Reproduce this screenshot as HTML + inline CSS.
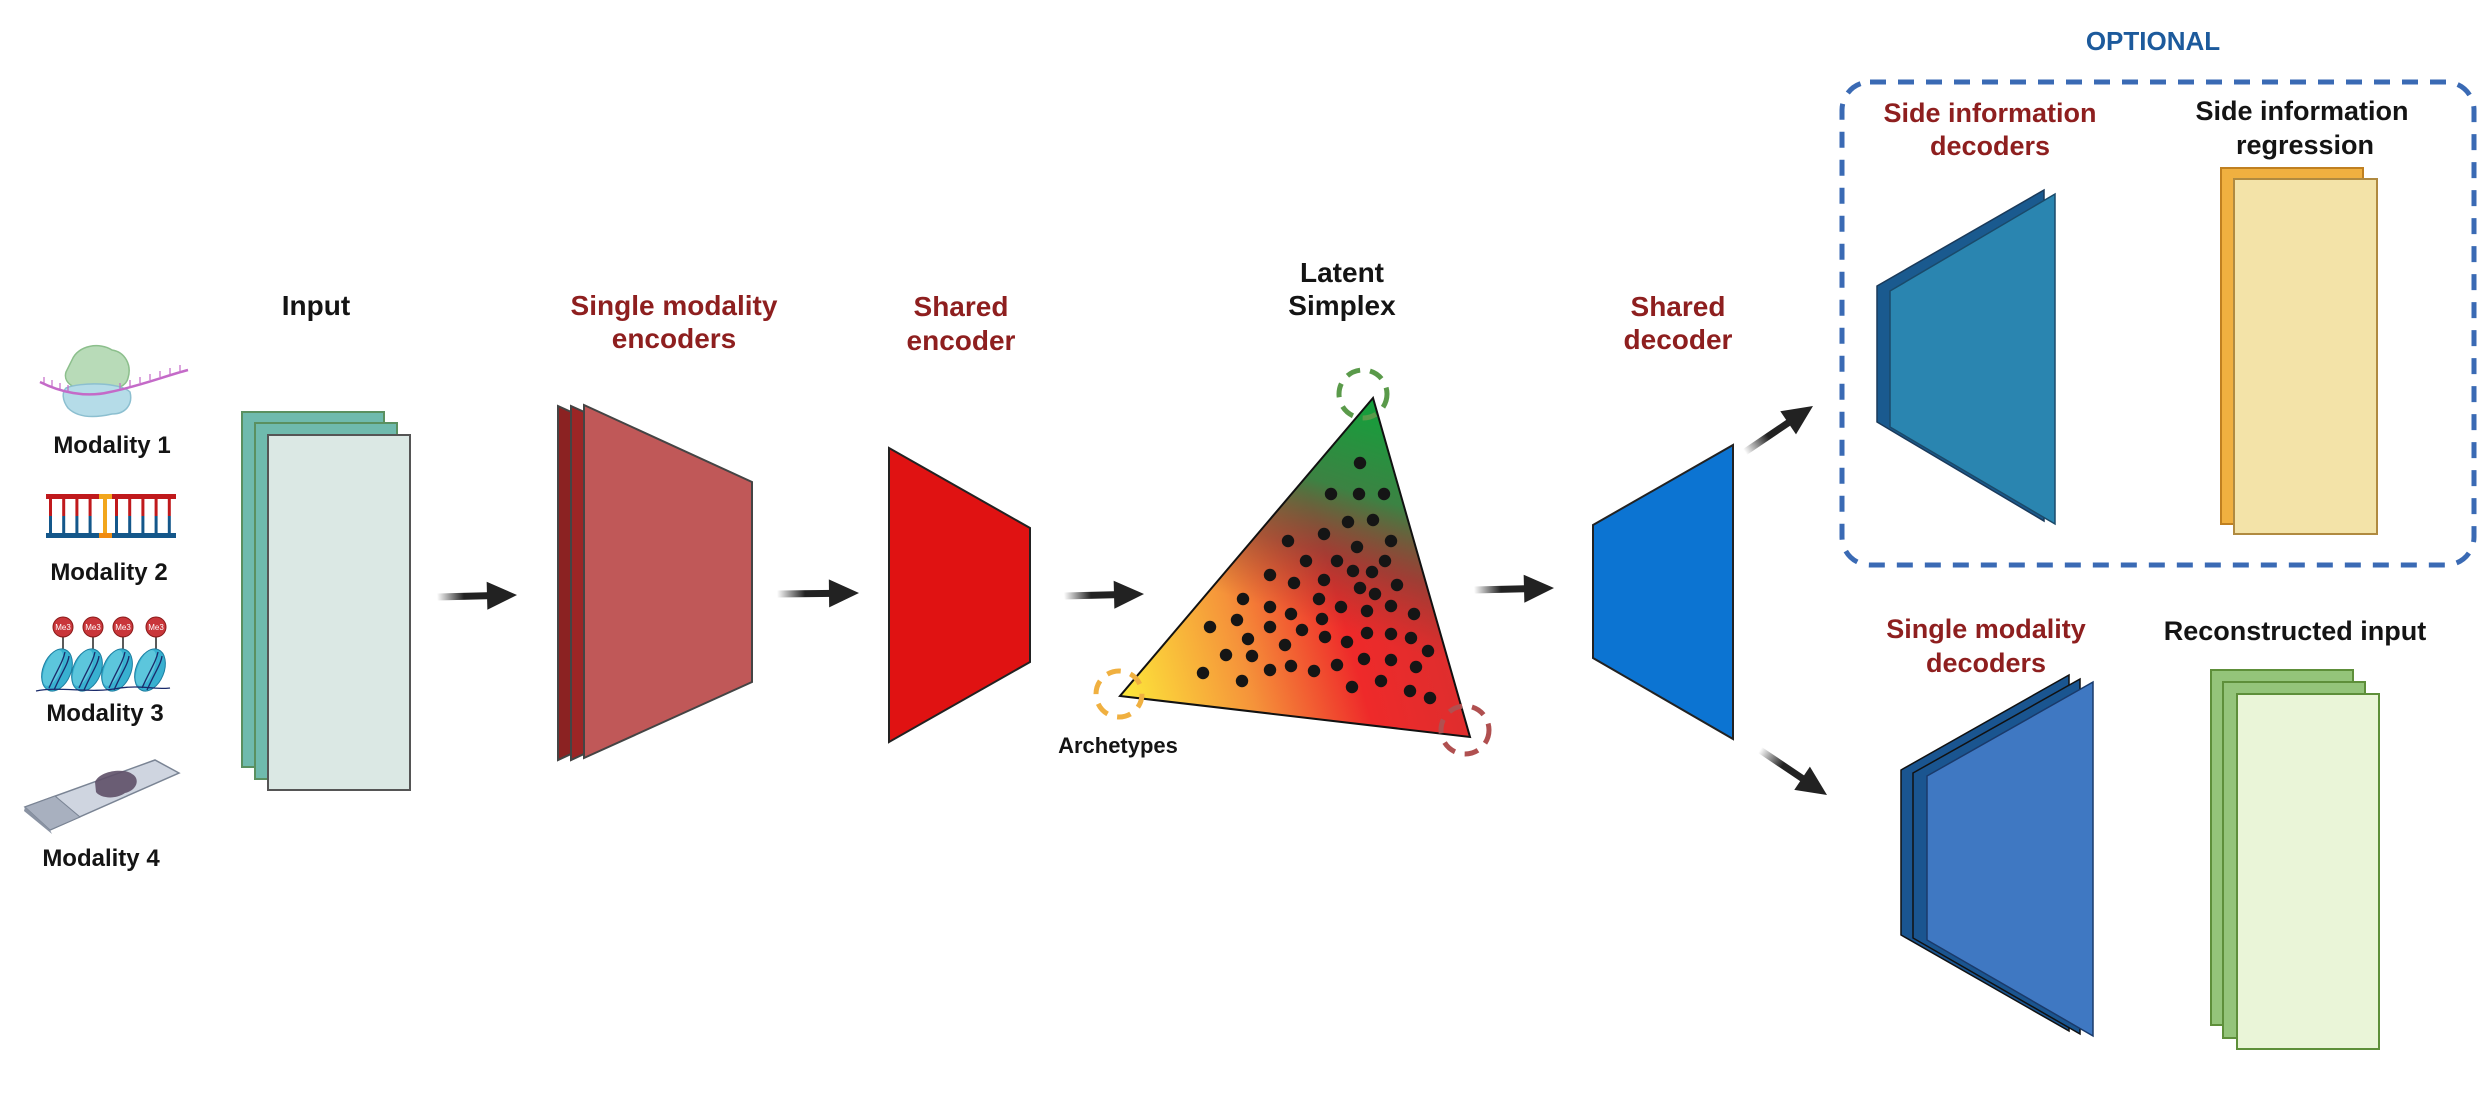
<!DOCTYPE html>
<html><head><meta charset="utf-8"><style>
html,body{margin:0;padding:0;background:#fff;}
svg{display:block;}
text{font-family:"Liberation Sans",Arial,sans-serif;font-weight:bold;}
.red{fill:#8e1f1f;}
.blk{fill:#141414;}
</style></head><body>
<svg id="fig" width="2491" height="1111" viewBox="0 0 2491 1111" xmlns="http://www.w3.org/2000/svg">
<defs>
  <linearGradient id="arrFade" x1="0" y1="0" x2="1" y2="0">
    <stop offset="0" stop-color="#222" stop-opacity="0"/>
    <stop offset="0.5" stop-color="#222" stop-opacity="1"/>
    <stop offset="1" stop-color="#222"/>
  </linearGradient>
  <linearGradient id="triBase" gradientUnits="userSpaceOnUse" x1="1120" y1="696" x2="1470" y2="600">
    <stop offset="0" stop-color="#fde93a"/>
    <stop offset="0.35" stop-color="#f5933a"/>
    <stop offset="0.65" stop-color="#ee2a2a"/>
    <stop offset="1" stop-color="#d92f2f"/>
  </linearGradient>
  <linearGradient id="triGreen" gradientUnits="userSpaceOnUse" x1="1380" y1="400" x2="1300" y2="660">
    <stop offset="0" stop-color="#11a23a" stop-opacity="1"/>
    <stop offset="0.35" stop-color="#2d8a45" stop-opacity="0.92"/>
    <stop offset="0.6" stop-color="#6a4a3a" stop-opacity="0.55"/>
    <stop offset="0.85" stop-color="#8a3a30" stop-opacity="0"/>
  </linearGradient>
  <clipPath id="triClip"><polygon points="1373,398 1120,696 1470,737"/></clipPath>
</defs>

<!-- Modality icons -->
<g>
  <path d="M72,360 C78,345 100,342 112,350 C125,352 132,365 128,378 C126,388 110,392 95,390 C80,392 62,385 66,372 Z" fill="#b8dbb8" stroke="#8cbf8c" stroke-width="1.5"/>
  <path d="M66,388 C80,382 120,382 130,392 C133,404 126,414 112,414 C95,418 78,418 68,408 C62,400 62,392 66,388 Z" fill="#b5dce8" stroke="#8cbfd0" stroke-width="1.5"/>
  <path d="M40,382 C60,392 85,398 110,392 C140,386 165,376 188,370" fill="none" stroke="#c46ac8" stroke-width="2.5"/>
  <path d="M44,383 l0,-6 M52,386 l0,-6 M60,389 l0,-6 M68,391 l0,-6 M120,389 l0,-6 M130,386 l0,-6 M140,383 l0,-6 M150,380 l0,-6 M160,377 l0,-6 M170,374 l0,-6 M180,371 l0,-6" stroke="#c46ac8" stroke-width="1.2"/>
</g>
<text class="blk" x="112" y="453" font-size="24" text-anchor="middle">Modality 1</text>

<g>
  <rect x="46" y="494" width="130" height="5" fill="#c0191c"/>
  <rect x="46" y="533" width="130" height="5" fill="#14578a"/>
  <g id="rungs"></g>
  <rect x="99" y="494" width="13" height="5" fill="#f2a61c"/>
  <rect x="103" y="499" width="4" height="34" fill="#f2a61c"/>
  <rect x="99" y="533" width="13" height="5" fill="#f08a10"/>
</g>
<text class="blk" x="109" y="580" font-size="24" text-anchor="middle">Modality 2</text>

<g id="mod3"></g>
<text class="blk" x="105" y="721" font-size="24" text-anchor="middle">Modality 3</text>

<g>
  <polygon points="25,807 155,760 179,773 50,830" fill="#cfd5e0" stroke="#7a8494" stroke-width="1.5"/>
  <polygon points="25,807 55,796 80,817 50,830" fill="#a8b0bf" stroke="#7a8494" stroke-width="1"/>
  <polygon points="25,807 50,830 52,834 24,811" fill="#8a93a3"/>
  <path d="M95,782 C100,770 125,768 132,774 C140,778 138,790 125,793 C115,800 100,798 96,792 Z" fill="#5e5068" opacity="0.9"/>
</g>
<text class="blk" x="101" y="866" font-size="24" text-anchor="middle">Modality 4</text>

<!-- Input -->
<text class="blk" x="316" y="315" font-size="28" text-anchor="middle">Input</text>
<g>
  <rect x="242" y="412" width="142" height="355" fill="#6fbaad" stroke="#5a9060" stroke-width="2"/>
  <rect x="255" y="423" width="142" height="356" fill="#6fbaad" stroke="#5a9060" stroke-width="2"/>
  <rect x="268" y="435" width="142" height="355" fill="#dbe8e4" stroke="#555" stroke-width="2"/>
</g>

<!-- encoders -->
<text class="red" x="674" y="315" font-size="28" text-anchor="middle">Single modality</text>
<text class="red" x="674" y="348" font-size="28" text-anchor="middle">encoders</text>
<g>
  <polygon points="558,406 726,482 726,682 558,760" fill="#8b2222" stroke="#444" stroke-width="2"/>
  <polygon points="571,406 739,482 739,682 571,760" fill="#9b2525" stroke="#444" stroke-width="2"/>
  <polygon points="584,405 752,482 752,682 584,758" fill="#c05858" stroke="#444" stroke-width="2"/>
</g>

<text class="red" x="961" y="316" font-size="28" text-anchor="middle">Shared</text>
<text class="red" x="961" y="350" font-size="28" text-anchor="middle">encoder</text>
<polygon points="889,448 1030,528 1030,662 889,742" fill="#e01212" stroke="#222" stroke-width="2"/>

<!-- simplex -->
<text class="blk" x="1342" y="282" font-size="28" text-anchor="middle">Latent</text>
<text class="blk" x="1342" y="315" font-size="28" text-anchor="middle">Simplex</text>
<g>
  <g clip-path="url(#triClip)">
    <rect x="1100" y="390" width="380" height="360" fill="url(#triBase)"/>
    <rect x="1100" y="390" width="380" height="360" fill="url(#triGreen)"/>
  </g>
  <polygon points="1373,398 1120,696 1470,737" fill="none" stroke="#111" stroke-width="2"/>
  <g id="dots"></g>
</g>
<circle cx="1363" cy="394" r="24" fill="none" stroke="#5a9a4a" stroke-width="5" stroke-dasharray="14,10"/>
<circle cx="1119" cy="694" r="23" fill="none" stroke="#f0b040" stroke-width="5" stroke-dasharray="14,10"/>
<circle cx="1465" cy="730" r="24" fill="none" stroke="#b05050" stroke-width="5" stroke-dasharray="14,10"/>
<text class="blk" x="1118" y="753" font-size="22" text-anchor="middle">Archetypes</text>

<!-- shared decoder -->
<text class="red" x="1678" y="316" font-size="28" text-anchor="middle">Shared</text>
<text class="red" x="1678" y="349" font-size="28" text-anchor="middle">decoder</text>
<polygon points="1593,525 1733,445 1733,739 1593,658" fill="#0c74d2" stroke="#222" stroke-width="2"/>

<!-- arrows -->
<g id="arrows"></g>

<!-- optional -->
<text x="2153" y="50" font-size="26" text-anchor="middle" fill="#1c5a9c">OPTIONAL</text>
<rect x="1842" y="82" width="632" height="483" rx="28" ry="28" fill="none" stroke="#3a6ab4" stroke-width="5" stroke-dasharray="16,12"/>
<text class="red" x="1990" y="122" font-size="27" text-anchor="middle">Side information</text>
<text class="red" x="1990" y="155" font-size="27" text-anchor="middle">decoders</text>
<text class="blk" x="2302" y="120" font-size="27" text-anchor="middle">Side information</text>
<text class="blk" x="2305" y="154" font-size="27" text-anchor="middle">regression</text>
<g>
  <polygon points="1877,286 2044,190 2044,521 1877,422" fill="#1a5a8f" stroke="#1a3a5a" stroke-width="1.5"/>
  <polygon points="1890,291 2055,194 2055,524 1890,427" fill="#2a85b0" stroke="#1a4a6a" stroke-width="1.5"/>
</g>
<g>
  <rect x="2221" y="168" width="142" height="356" fill="#f0b040" stroke="#c08020" stroke-width="2"/>
  <rect x="2234" y="179" width="143" height="355" fill="#f3e3a8" stroke="#b08a40" stroke-width="2"/>
</g>

<!-- lower -->
<text class="red" x="1986" y="638" font-size="27" text-anchor="middle">Single modality</text>
<text class="red" x="1986" y="672" font-size="27" text-anchor="middle">decoders</text>
<text class="blk" x="2295" y="640" font-size="27" text-anchor="middle">Reconstructed input</text>
<g>
  <polygon points="1901,770 2069,675 2069,1031 1901,935" fill="#1a5590" stroke="#111" stroke-width="1.5"/>
  <polygon points="1913,773 2080,679 2080,1034 1913,938" fill="#1a5590" stroke="#111" stroke-width="1.5"/>
  <polygon points="1927,776 2093,682 2093,1036 1927,940" fill="#3f78c2" stroke="#1a3a6a" stroke-width="1.5"/>
</g>
<g>
  <rect x="2211" y="670" width="142" height="355" fill="#94c47a" stroke="#5e8f3a" stroke-width="2"/>
  <rect x="2223" y="682" width="142" height="356" fill="#94c47a" stroke="#5e8f3a" stroke-width="2"/>
  <rect x="2237" y="694" width="142" height="355" fill="#eaf5d8" stroke="#5e8f3a" stroke-width="2"/>
</g>
</svg>
<script>
// simplex sample points, in a local frame (origin at 1100,380 of the figure)
const dotU = [260,231,259,284,248,273,188,224,291,257,206,237,285,253,272,170,194,224,260,275,297,143,219,170,241,267,291,314,137,191,222,110,170,202,148,225,247,267,291,311,185,328,126,152,264,291,103,170,191,214,237,316,142,252,281,310,330];
const dotV = [83,114,114,114,142,140,161,154,161,167,181,181,181,191,192,195,203,200,208,214,205,219,219,227,227,231,226,234,240,234,239,247,247,250,259,257,262,253,254,258,265,271,275,276,279,280,293,290,286,291,285,287,301,307,301,311,318];
const NS='http://www.w3.org/2000/svg';
const sx = u => 1100 + u, sy = v => 380 + v;
const dg = document.getElementById('dots');
for (let i=0;i<dotU.length;i++){
  const c=document.createElementNS(NS,'circle');
  c.setAttribute('cx',sx(dotU[i])); c.setAttribute('cy',sy(dotV[i])); c.setAttribute('r',6.2);
  c.setAttribute('fill','#151515');
  
  
  dg.appendChild(c);
}
// DNA rungs
const rg=document.getElementById('rungs');
for (let k=0;k<10;k++){
  const x=49+k*13.2; if (Math.abs(x-105)<6) continue;
  const a=document.createElementNS(NS,'rect');
  a.setAttribute('x',x); a.setAttribute('y',499); a.setAttribute('width',3); a.setAttribute('height',17); a.setAttribute('fill','#c0191c');
  
  
  rg.appendChild(a);
  const b=document.createElementNS(NS,'rect');
  b.setAttribute('x',x); b.setAttribute('y',516); b.setAttribute('width',3); b.setAttribute('height',17); b.setAttribute('fill','#14578a');
  
  
  rg.appendChild(b);
}
// nucleosomes
const m3=document.getElementById('mod3');
[63,93,123,156].forEach((x)=>{
  const g=document.createElementNS(NS,'g');
  
  
  g.innerHTML=`<line x1="${x}" y1="636" x2="${x}" y2="652" stroke="#222" stroke-width="1.5"/>
  <ellipse cx="${x-6}" cy="670" rx="14" ry="22" transform="rotate(22 ${x-6} 670)" fill="#38b0d0" stroke="#1d7ea0" stroke-width="1"/>
  <ellipse cx="${x-10}" cy="668" rx="8" ry="19" transform="rotate(22 ${x-10} 668)" fill="#5cc6dc"/>
  <path d="M${x-14},688 C${x-6},670 ${x},662 ${x+2},652 M${x-9},690 C${x-1},672 ${x+5},664 ${x+6},656" stroke="#1a2a6a" stroke-width="1.3" fill="none"/>
  <circle cx="${x}" cy="627" r="10" fill="#c9363a" stroke="#8a1a1a" stroke-width="1"/>
  <text x="${x}" y="630" font-size="8" fill="#fff" text-anchor="middle" style="font-weight:normal">Me3</text>`;
  m3.appendChild(g);
});
const base=document.createElementNS(NS,'path');
base.setAttribute('d','M36,691 C60,686 90,694 120,688 C140,685 160,690 170,688');
base.setAttribute('stroke','#1a2a6a'); base.setAttribute('fill','none'); base.setAttribute('stroke-width','1.3');


m3.appendChild(base);
// arrows: tail x,y -> tip x,y
const arrTail = [[437,597],[777,594],[1064,596],[1474,590],[1745,452],[1760,750]];
const arrTip  = [[517,595],[859,593],[1144,594],[1554,588],[1813,406],[1827,795]];
const ag=document.getElementById('arrows');
arrTail.forEach((t,i)=>{
  const p=arrTip[i]; const dx=p[0]-t[0], dy=p[1]-t[1]; const L=Math.hypot(dx,dy); const ang=Math.atan2(dy,dx)*180/Math.PI;
  const g=document.createElementNS(NS,'g');
  g.setAttribute('transform',`translate(${t[0]},${t[1]}) rotate(${ang})`);
  
  
  g.innerHTML=`<rect x="0" y="-3.5" width="${L-26}" height="7" fill="url(#arrFade)"/>
  <polygon points="${L-30},-14 ${L},0 ${L-30},14" fill="#222"/>`;
  ag.appendChild(g);
});
</script>
</body></html>
